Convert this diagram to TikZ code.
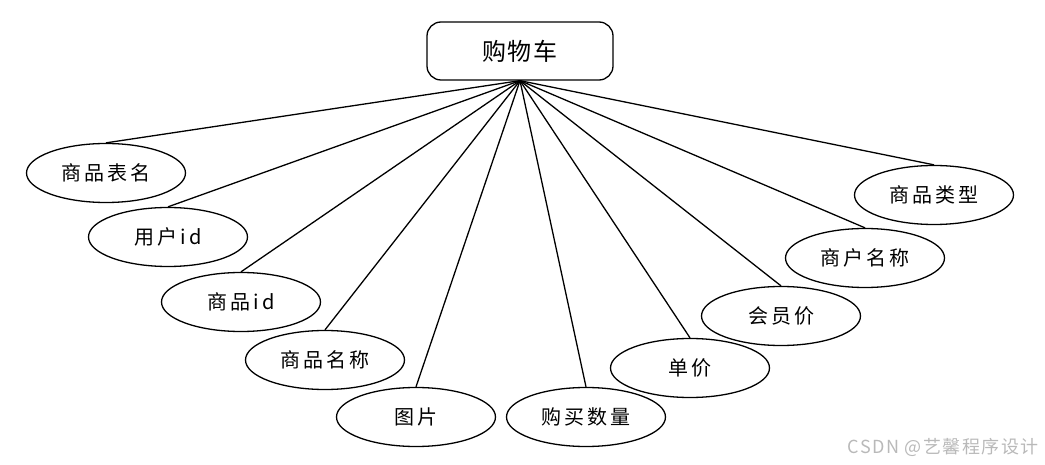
\documentclass[tikz,border=0pt]{standalone}
\usepackage{fontspec}
\newfontfamily\cjk[LetterSpace=15]{Noto Sans CJK SC}
\newfontfamily\cjktitle[LetterSpace=5]{Noto Sans CJK SC}
\newfontfamily\cjkmark[LetterSpace=8]{Noto Sans CJK SC}
\usetikzlibrary{shapes.geometric}

\tikzset{
  entity/.style={draw, rounded corners=14pt, line width=1.3pt, minimum width=186pt, minimum height=58pt,
    inner sep=0pt, font=\cjktitle\fontsize{24}{27}\selectfont},
  attr/.style={draw, ellipse, line width=1.3pt, minimum width=159pt, minimum height=59pt,
    inner sep=0pt, font=\cjk\fontsize{20}{23}\selectfont},
  link/.style={line width=1.3pt}
}

\begin{document}
\begin{tikzpicture}[x=1pt,y=-1pt]

\useasboundingbox (0,0) rectangle (1045,465);

 \node[entity] (cart) at (520,51) {购物车};

 % attributes of the cart
 \foreach \name/\x/\y/\txt in {tbl/106/173/商品表名, uid/168/237/用户id, gid/241/302/商品id,
     gname/325/360/商品名称, pic/416/417/图片, num/586/417/购买数量, price/690/368/单价,
     vip/781/316/会员价, shop/865/258/商户名称, type/934/195/商品类型}{%
     \node[attr] (\name) at (\x,\y) {\txt};
     \draw[link] (cart.south) -- (\name.north);
  }

 \node[text=gray!55, font=\cjkmark\fontsize{18}{21}\selectfont, anchor=east] (mark) at (1042,447) {CSDN @艺馨程序设计};

\end{tikzpicture}
\end{document}
